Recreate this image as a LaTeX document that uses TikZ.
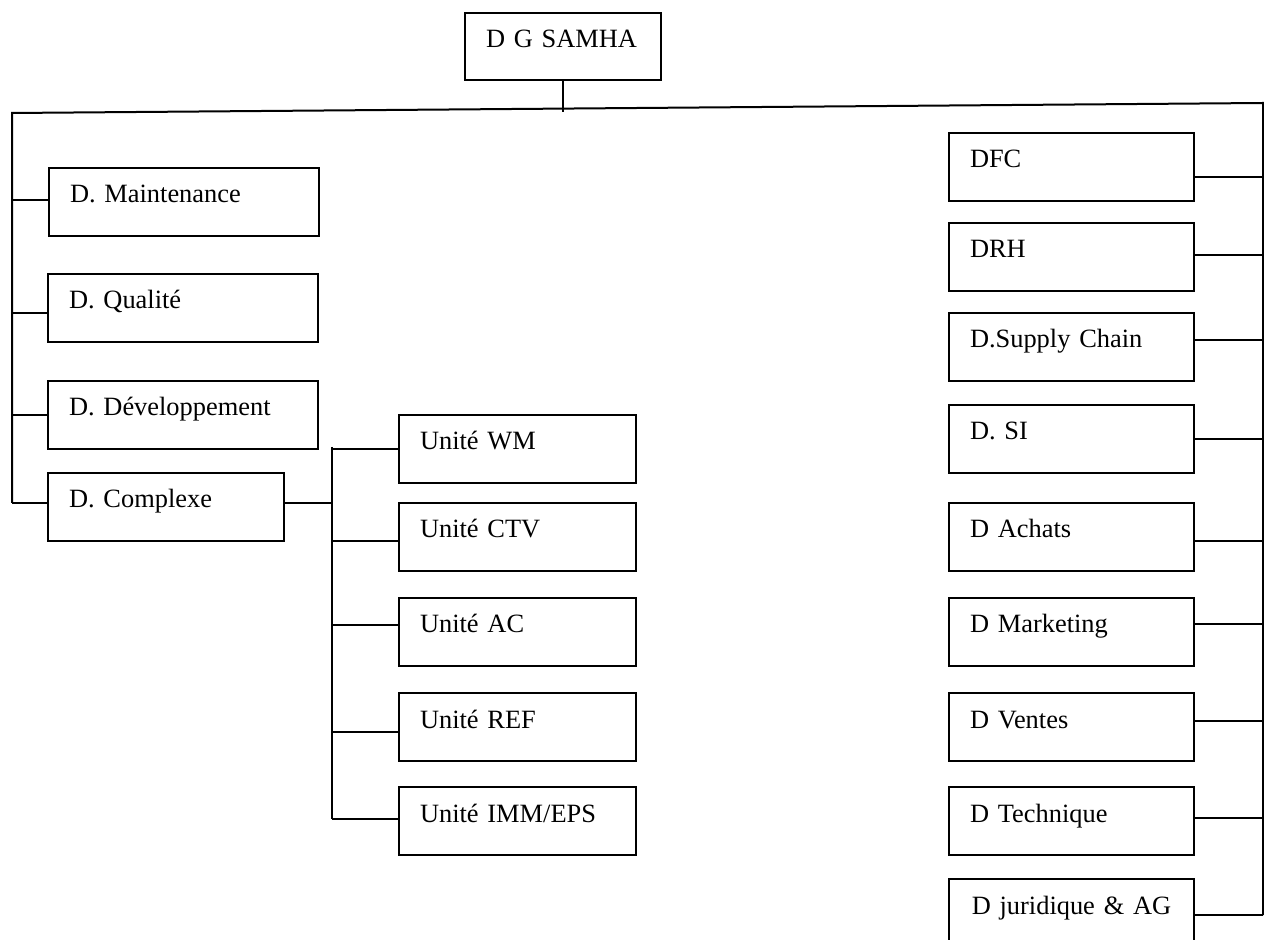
\documentclass[tikz,border=0pt]{standalone}
\usepackage{fontspec}
\setmainfont{Liberation Serif}
\begin{document}
\begin{tikzpicture}[x=0.5pt,y=-0.5pt,
  orgbox/.style={draw, line width=1pt, rectangle, anchor=north west,
    inner ysep=0pt, inner xsep=10.5pt, align=left,
    text height=17.5pt, text depth=16.5pt,
    font=\fontsize{13.2pt}{15pt}\selectfont},
  wleft/.style={text width=114pt},
  wcomp/.style={text width=97pt},
  wunit/.style={text width=97.5pt},
  wright/.style={text width=101.5pt},
  wtop/.style={text width=77pt, text depth=16pt},
  link/.style={line width=1pt}]
\useasboundingbox (0,0) rectangle (1264,940);
\clip (0,0) rectangle (1264,940);

% top
\node[orgbox,wtop] (dg) at (464,12) {D G SAMHA};

% left column
\node[orgbox,wleft] (maint) at (48,167) {D. Maintenance};
\node[orgbox,wleft] (qual) at (47,273) {D. Qualité};
\node[orgbox,wleft] (dev) at (47,380) {D. Développement};
\node[orgbox,wcomp] (comp) at (47,472) {D. Complexe};

% units
\node[orgbox,wunit] (wm) at (398,414) {Unité WM};
\node[orgbox,wunit] (ctv) at (398,502) {Unité CTV};
\node[orgbox,wunit] (ac) at (398,597) {Unité AC};
\node[orgbox,wunit] (ref) at (398,692) {Unité REF};
\node[orgbox,wunit] (imm) at (398,786) {Unité IMM/EPS};

% right column
\node[orgbox,wright] (dfc) at (948,132) {DFC};
\node[orgbox,wright] (drh) at (948,222) {DRH};
\node[orgbox,wright] (sc) at (948,312) {D.Supply Chain};
\node[orgbox,wright] (si) at (948,404) {D. SI};
\node[orgbox,wright] (ach) at (948,502) {D Achats};
\node[orgbox,wright] (mkt) at (948,597) {D Marketing};
\node[orgbox,wright] (ven) at (948,692) {D Ventes};
\node[orgbox,wright] (tec) at (948,786) {D Technique};
\node[orgbox,wright,align=center] (jur) at (948,878) {D juridique \& AG};

% bus coordinates
\coordinate (tl) at (12,113);
\coordinate (tr) at (1263,103);
\coordinate (jt) at (584,112);
\coordinate (lbb) at ([yshift=2pt]comp.west -| tl);
\coordinate (mbt) at (332,447);
\coordinate (mbb) at ([yshift=1pt]imm.west -| mbt);
\coordinate (rbb) at ([yshift=-1pt]jur.east -| tr);

% top connectors
\draw[link] (dg.south) -- (dg.south |- jt);
\draw[link] (lbb) -- (tl) -- (tr) -- (rbb);

% left branches
\draw[link] ([yshift=1pt]maint.west) -- ([yshift=1pt]maint.west -| tl);
\draw[link] ([yshift=-2.5pt]qual.west) -- ([yshift=-2.5pt]qual.west -| tl);
\draw[link] (dev.west) -- (dev.west -| tl);
\draw[link] ([yshift=2pt]comp.west) -- ([yshift=2pt]comp.west -| tl);

% complexe to units
\draw[link] ([yshift=2pt]comp.east) -- ([yshift=2pt]comp.east -| mbt);
\draw[link] (mbt) -- (mbb);
\draw[link] (wm.west) -- (wm.west -| mbt);
\draw[link] ([yshift=-2pt]ctv.west) -- ([yshift=-2pt]ctv.west -| mbt);
\draw[link] ([yshift=3.5pt]ac.west) -- ([yshift=3.5pt]ac.west -| mbt);
\draw[link] ([yshift=-2.5pt]ref.west) -- ([yshift=-2.5pt]ref.west -| mbt);
\draw[link] ([yshift=1pt]imm.west) -- ([yshift=1pt]imm.west -| mbt);

% right branches
\draw[link] ([yshift=-5pt]dfc.east) -- ([yshift=-5pt]dfc.east -| tr);
\draw[link] ([yshift=1pt]drh.east) -- ([yshift=1pt]drh.east -| tr);
\draw[link] ([yshift=3.5pt]sc.east) -- ([yshift=3.5pt]sc.east -| tr);
\draw[link] (si.east) -- (si.east -| tr);
\draw[link] ([yshift=-2pt]ach.east) -- ([yshift=-2pt]ach.east -| tr);
\draw[link] ([yshift=4pt]mkt.east) -- ([yshift=4pt]mkt.east -| tr);
\draw[link] ([yshift=3pt]ven.east) -- ([yshift=3pt]ven.east -| tr);
\draw[link] ([yshift=1.5pt]tec.east) -- ([yshift=1.5pt]tec.east -| tr);
\draw[link] ([yshift=-1pt]jur.east) -- ([yshift=-1pt]jur.east -| tr);
\end{tikzpicture}
\end{document}
